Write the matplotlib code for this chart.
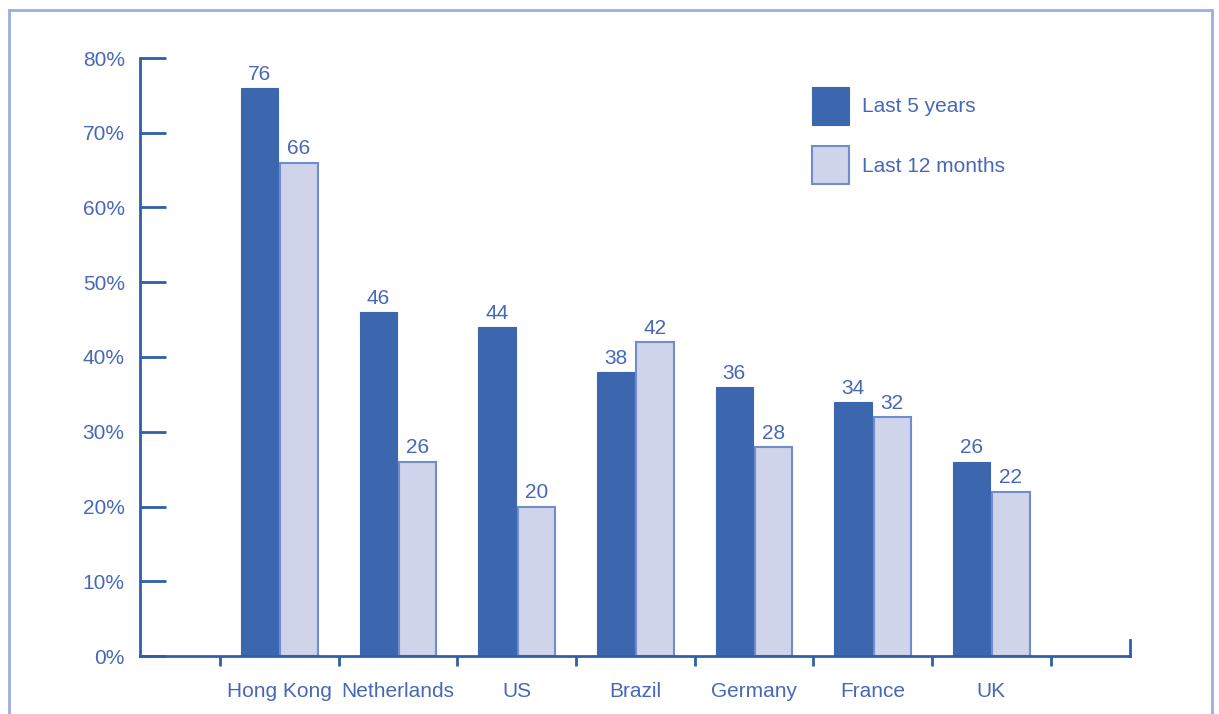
import numpy as np
import matplotlib
matplotlib.use("Agg")
import matplotlib.pyplot as plt
from matplotlib.patches import Rectangle

countries = ['Hong Kong', 'Netherlands', 'US', 'Brazil', 'Germany', 'France', 'UK']
last_5_years = [76, 46, 44, 38, 36, 34, 26]
last_12_months = [66, 26, 20, 42, 28, 32, 22]
yticks = [0, 10, 20, 30, 40, 50, 60, 70, 80]

axis_color = '#2f5fa8'
text_color = '#4768b8'
dark = '#3c66ad'
light = '#cfd4ea'
light_edge = '#6f8ccc'
fs = 15

plt.rcParams['font.family'] = ['Liberation Sans', 'DejaVu Sans']

fig = plt.figure(figsize=(12.19, 7.14), dpi=100)
ax = fig.add_axes([140 / 1219, 58 / 714, 990 / 1219, 598 / 714])

# outer frame, cut off at the bottom
fig.patches.append(Rectangle((9 / 1219, -0.05), 1203 / 1219, 1.05 - 10 / 714,
                             transform=fig.transFigure, fill=False,
                             edgecolor='#9aaedc', linewidth=2))

x = np.arange(len(countries))
w = 0.315
b1 = ax.bar(x - w / 2 - 0.008, last_5_years, w, color=dark, edgecolor=dark,
            linewidth=0.8, label='Last 5 years')
b2 = ax.bar(x + w / 2 + 0.008, last_12_months, w, color=light, edgecolor=light_edge,
            linewidth=1.5, label='Last 12 months')
ax.bar_label(b1, padding=3, fontsize=fs, color=text_color)
ax.bar_label(b2, padding=3, fontsize=fs, color=text_color)

ax.set_xlim(-1.175, 7.17)
ax.set_ylim(0, 80)

for s in ['top', 'right']:
    ax.spines[s].set_visible(False)
for s in ['left', 'bottom']:
    ax.spines[s].set_color(axis_color)
    ax.spines[s].set_linewidth(2)

# small upward tick at the right end of the x axis
ax.plot([1, 1], [0, 0.027], transform=ax.transAxes, color=axis_color,
        linewidth=2, clip_on=False)

ax.set_yticks(yticks)
ax.set_yticklabels([f'{v}%' for v in yticks])
ax.tick_params(axis='y', direction='in', length=19, width=2, color=axis_color,
               labelcolor=text_color, labelsize=fs, pad=11)

ax.set_xticks(np.arange(-0.5, len(countries), 1.0))
ax.set_xticklabels([])
ax.set_xticks(x, minor=True)
ax.set_xticklabels(countries, minor=True)
ax.tick_params(axis='x', which='major', direction='out', length=7, width=2,
               color=axis_color)
ax.tick_params(axis='x', which='minor', length=0, labelcolor=text_color,
               labelsize=fs, pad=19)

ax.legend(loc='upper left', bbox_to_anchor=(812 / 1219, 1 - 87 / 714),
          bbox_transform=fig.transFigure, frameon=False, fontsize=fs,
          labelcolor=text_color, handlelength=1.78, handleheight=2.4,
          labelspacing=1.05, handletextpad=0.63, borderpad=0, borderaxespad=0)

fig.savefig('out.png', dpi=100)
